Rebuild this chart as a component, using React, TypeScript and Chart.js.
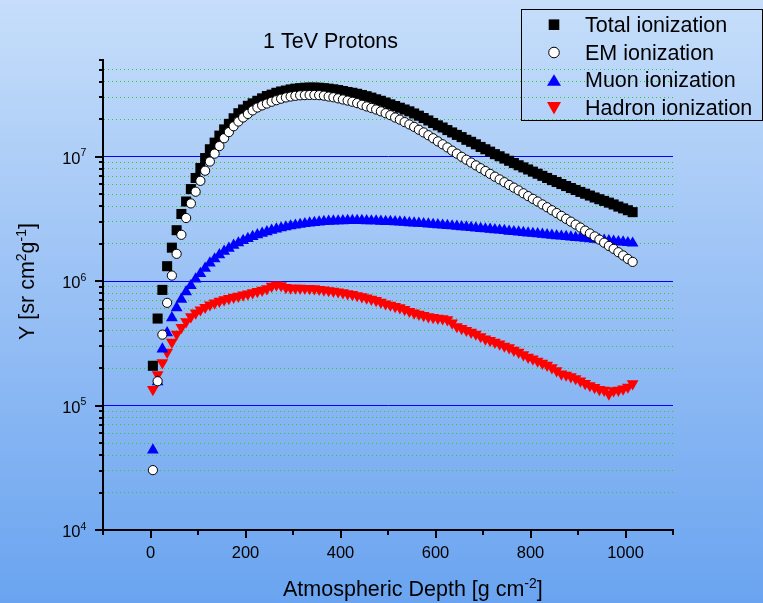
import React, { useEffect, useRef } from 'react';
import { Chart, registerables } from 'chart.js';

Chart.register(...registerables);

// ---------- data ----------
const DEPTH = [
  5, 15, 25, 35, 45, 55, 65, 75, 85, 95,
  105, 115, 125, 135, 145, 155, 165, 175, 185, 195,
  205, 215, 225, 235, 245, 255, 265, 275, 285, 295,
  305, 315, 325, 335, 345, 355, 365, 375, 385, 395,
  405, 415, 425, 435, 445, 455, 465, 475, 485, 495,
  505, 515, 525, 535, 545, 555, 565, 575, 585, 595,
  605, 615, 625, 635, 645, 655, 665, 675, 685, 695,
  705, 715, 725, 735, 745, 755, 765, 775, 785, 795,
  805, 815, 825, 835, 845, 855, 865, 875, 885, 895,
  905, 915, 925, 935, 945, 955, 965, 975, 985, 995,
  1005, 1015,
];

const TOTAL = [
  2.09e5, 5.01e5, 8.51e5, 1.32e6, 1.86e6, 2.57e6, 3.47e6, 4.37e6, 5.50e6, 6.76e6,
  8.13e6, 9.77e6, 1.15e7, 1.30e7, 1.48e7, 1.66e7, 1.84e7, 2.04e7, 2.24e7, 2.40e7,
  2.57e7, 2.69e7, 2.82e7, 2.95e7, 3.08e7, 3.16e7, 3.27e7, 3.35e7, 3.41e7, 3.48e7,
  3.53e7, 3.56e7, 3.59e7, 3.60e7, 3.60e7, 3.59e7, 3.56e7, 3.53e7, 3.49e7, 3.44e7,
  3.38e7, 3.32e7, 3.27e7, 3.21e7, 3.14e7, 3.07e7, 2.99e7, 2.90e7, 2.82e7, 2.73e7,
  2.64e7, 2.56e7, 2.48e7, 2.40e7, 2.32e7, 2.23e7, 2.14e7, 2.05e7, 1.96e7, 1.87e7,
  1.79e7, 1.72e7, 1.64e7, 1.57e7, 1.50e7, 1.44e7, 1.37e7, 1.32e7, 1.26e7, 1.20e7,
  1.15e7, 1.10e7, 1.05e7, 1.01e7, 9.68e6, 9.29e6, 8.91e6, 8.55e6, 8.22e6, 7.91e6,
  7.60e6, 7.31e6, 7.03e6, 6.76e6, 6.50e6, 6.27e6, 6.04e6, 5.82e6, 5.61e6, 5.41e6,
  5.22e6, 5.05e6, 4.88e6, 4.71e6, 4.56e6, 4.42e6, 4.28e6, 4.14e6, 3.98e6, 3.85e6,
  3.72e6, 3.59e6,
];

const EM = [
  3.03e4, 1.57e5, 3.72e5, 6.70e5, 1.11e6, 1.66e6, 2.36e6, 3.22e6, 4.22e6, 5.24e6,
  6.41e6, 7.73e6, 9.16e6, 1.06e7, 1.22e7, 1.41e7, 1.58e7, 1.76e7, 1.92e7, 2.07e7,
  2.21e7, 2.36e7, 2.49e7, 2.59e7, 2.68e7, 2.77e7, 2.85e7, 2.93e7, 3.00e7, 3.05e7,
  3.09e7, 3.12e7, 3.13e7, 3.14e7, 3.14e7, 3.13e7, 3.10e7, 3.05e7, 3.01e7, 2.95e7,
  2.89e7, 2.83e7, 2.77e7, 2.70e7, 2.62e7, 2.54e7, 2.47e7, 2.40e7, 2.32e7, 2.24e7,
  2.16e7, 2.07e7, 1.99e7, 1.90e7, 1.82e7, 1.74e7, 1.65e7, 1.57e7, 1.49e7, 1.41e7,
  1.33e7, 1.26e7, 1.19e7, 1.12e7, 1.06e7, 1.00e7, 9.48e6, 8.99e6, 8.53e6, 8.09e6,
  7.69e6, 7.29e6, 6.92e6, 6.58e6, 6.25e6, 5.94e6, 5.65e6, 5.37e6, 5.09e6, 4.83e6,
  4.59e6, 4.37e6, 4.14e6, 3.93e6, 3.72e6, 3.53e6, 3.35e6, 3.17e6, 3.01e6, 2.85e6,
  2.70e6, 2.55e6, 2.42e6, 2.29e6, 2.16e6, 2.04e6, 1.92e6, 1.82e6, 1.71e6, 1.61e6,
  1.51e6, 1.43e6,
];

const MUON = [
  4.39e4, 1.55e5, 2.85e5, 3.85e5, 5.08e5, 6.10e5, 7.16e5, 8.22e5, 9.23e5, 1.04e6,
  1.15e6, 1.27e6, 1.40e6, 1.51e6, 1.63e6, 1.74e6, 1.84e6, 1.94e6, 2.03e6, 2.12e6,
  2.20e6, 2.28e6, 2.36e6, 2.43e6, 2.49e6, 2.56e6, 2.62e6, 2.68e6, 2.73e6, 2.78e6,
  2.82e6, 2.86e6, 2.90e6, 2.93e6, 2.96e6, 2.99e6, 3.01e6, 3.03e6, 3.04e6, 3.05e6,
  3.06e6, 3.07e6, 3.07e6, 3.07e6, 3.07e6, 3.06e6, 3.05e6, 3.05e6, 3.03e6, 3.02e6,
  3.01e6, 3.00e6, 2.99e6, 2.97e6, 2.95e6, 2.93e6, 2.92e6, 2.90e6, 2.88e6, 2.86e6,
  2.84e6, 2.82e6, 2.80e6, 2.78e6, 2.76e6, 2.74e6, 2.72e6, 2.70e6, 2.67e6, 2.65e6,
  2.63e6, 2.61e6, 2.59e6, 2.57e6, 2.55e6, 2.52e6, 2.50e6, 2.48e6, 2.46e6, 2.44e6,
  2.42e6, 2.40e6, 2.38e6, 2.36e6, 2.34e6, 2.32e6, 2.30e6, 2.28e6, 2.26e6, 2.24e6,
  2.23e6, 2.21e6, 2.19e6, 2.17e6, 2.15e6, 2.13e6, 2.11e6, 2.09e6, 2.07e6, 2.06e6,
  2.04e6, 2.02e6,
];

const HADRON = [
  1.35e5, 1.77e5, 2.21e5, 2.69e5, 3.24e5, 3.76e5, 4.25e5, 4.73e5, 5.19e5, 5.56e5,
  5.89e5, 6.17e5, 6.46e5, 6.68e5, 6.92e5, 7.11e5, 7.28e5, 7.45e5, 7.59e5, 7.76e5,
  7.91e5, 8.09e5, 8.28e5, 8.47e5, 8.71e5, 9.12e5, 9.33e5, 9.23e5, 8.91e5, 8.81e5,
  8.81e5, 8.79e5, 8.77e5, 8.75e5, 8.71e5, 8.61e5, 8.51e5, 8.41e5, 8.32e5, 8.22e5,
  8.09e5, 7.94e5, 7.82e5, 7.67e5, 7.52e5, 7.35e5, 7.18e5, 7.00e5, 6.79e5, 6.58e5,
  6.43e5, 6.28e5, 6.12e5, 5.92e5, 5.73e5, 5.56e5, 5.43e5, 5.31e5, 5.19e5, 5.11e5,
  5.05e5, 4.99e5, 4.90e5, 4.62e5, 4.32e5, 4.17e5, 4.03e5, 3.89e5, 3.76e5, 3.59e5,
  3.43e5, 3.34e5, 3.24e5, 3.13e5, 3.01e5, 2.92e5, 2.79e5, 2.69e5, 2.57e5, 2.45e5,
  2.37e5, 2.28e5, 2.19e5, 2.11e5, 2.02e5, 1.91e5, 1.80e5, 1.76e5, 1.71e5, 1.65e5,
  1.58e5, 1.51e5, 1.45e5, 1.40e5, 1.35e5, 1.33e5, 1.24e5, 1.32e5, 1.33e5, 1.36e5,
  1.41e5, 1.50e5,
];

const SERIES_LABELS = ['Total ionization', 'EM ionization', 'Muon ionization', 'Hadron ionization'];
const TITLE = '1 TeV Protons';

const X_MIN = -100;
const X_MAX = 1100;
const X_STEP = 100;
const X_LABELED = [0, 200, 400, 600, 800, 1000];

const Y_MIN = 1e4;
const Y_MAX = 6e7;
const Y_DECADES = [1e4, 1e5, 1e6, 1e7];
const Y_EXPONENTS = ['4', '5', '6', '7'];
const Y_MULTIPLIERS = [1, 2, 3, 4, 5, 6, 7, 8, 9];

// ---------- styling ----------
const FONT = "'Liberation Sans', Arial, Helvetica, sans-serif";
const W = 763;
const H = 603;

const Y_TICKS: number[] = [];
Y_DECADES.forEach((d) => {
  Y_MULTIPLIERS.forEach((m) => {
    const v = d * m;
    if (v <= Y_MAX * 1.0000001) Y_TICKS.push(v);
  });
});

const isDecade = (v: number) => {
  const e = Math.log10(v);
  return Math.abs(e - Math.round(e)) < 1e-9;
};

type Part = { t: string; sup?: boolean };

function drawRich(
  ctx: CanvasRenderingContext2D,
  parts: Part[],
  x: number,
  y: number,
  size: number,
  supSize: number,
  supRise: number
) {
  let cx = x;
  ctx.textAlign = 'left';
  ctx.textBaseline = 'alphabetic';
  parts.forEach((p) => {
    if (p.sup) {
      ctx.font = `${supSize}px ${FONT}`;
      ctx.fillText(p.t, cx, y - supRise);
    } else {
      ctx.font = `${size}px ${FONT}`;
      ctx.fillText(p.t, cx, y);
    }
    cx += ctx.measureText(p.t).width;
  });
}

function drawMarker(ctx: CanvasRenderingContext2D, kind: number, x: number, y: number) {
  ctx.save();
  if (kind === 0) {
    ctx.fillStyle = '#000';
    ctx.fillRect(x - 5.3, y - 5.3, 10.6, 10.6);
  } else if (kind === 1) {
    ctx.beginPath();
    ctx.arc(x, y, 5.3, 0, Math.PI * 2);
    ctx.fillStyle = '#fff';
    ctx.fill();
    ctx.lineWidth = 1;
    ctx.strokeStyle = '#000';
    ctx.stroke();
  } else if (kind === 2) {
    ctx.beginPath();
    ctx.moveTo(x, y - 6);
    ctx.lineTo(x + 7, y + 5.5);
    ctx.lineTo(x - 7, y + 5.5);
    ctx.closePath();
    ctx.fillStyle = '#0000ff';
    ctx.fill();
  } else {
    ctx.beginPath();
    ctx.moveTo(x, y + 6.5);
    ctx.lineTo(x + 7, y - 6);
    ctx.lineTo(x - 7, y - 6);
    ctx.closePath();
    ctx.fillStyle = '#ff0000';
    ctx.fill();
  }
  ctx.restore();
}

const backgroundPlugin = {
  id: 'bgGradient',
  beforeDraw(chart: any) {
    const ctx = chart.ctx as CanvasRenderingContext2D;
    const g = ctx.createLinearGradient(0, 0, 0, chart.height);
    g.addColorStop(0, 'rgb(198,222,250)');
    g.addColorStop(0.5, 'rgb(152,192,245)');
    g.addColorStop(1, 'rgb(106,164,240)');
    ctx.save();
    ctx.fillStyle = g;
    ctx.fillRect(0, 0, chart.width, chart.height);
    ctx.restore();
  },
};

const overlayPlugin = {
  id: 'overlay',
  afterDraw(chart: any) {
    const ctx = chart.ctx as CanvasRenderingContext2D;
    const xs = chart.scales.x;
    const ys = chart.scales.y;
    const area = chart.chartArea;
    ctx.save();

    // tick marks
    ctx.strokeStyle = '#000';
    ctx.lineWidth = 2;
    ctx.lineCap = 'butt';
    xs.ticks.forEach((t: any) => {
      const px = Math.round(xs.getPixelForValue(t.value));
      const len = t.value % 200 === 0 ? 8 : 5;
      ctx.beginPath();
      ctx.moveTo(px, area.bottom);
      ctx.lineTo(px, area.bottom + len);
      ctx.stroke();
    });
    Y_TICKS.forEach((v) => {
      const py = Math.round(ys.getPixelForValue(v));
      const len = isDecade(v) ? 8 : 4;
      ctx.beginPath();
      ctx.moveTo(area.left, py);
      ctx.lineTo(area.left - len, py);
      ctx.stroke();
    });

    // y tick labels (10^n)
    ctx.fillStyle = '#000';
    Y_DECADES.forEach((d, i) => {
      const py = ys.getPixelForValue(d);
      ctx.font = `16.5px ${FONT}`;
      ctx.textAlign = 'right';
      ctx.textBaseline = 'alphabetic';
      ctx.fillText('10', 80.5, py + 7);
      ctx.font = `10.5px ${FONT}`;
      ctx.textAlign = 'left';
      ctx.fillText(Y_EXPONENTS[i], 80.5, py - 0.5);
    });

    // title
    ctx.font = `21.5px ${FONT}`;
    ctx.textAlign = 'left';
    ctx.textBaseline = 'alphabetic';
    ctx.fillText(TITLE, 263, 48);

    // x axis title
    drawRich(
      ctx,
      [{ t: 'Atmospheric Depth [g cm' }, { t: '-2', sup: true }, { t: ']' }],
      283,
      596,
      21.5,
      14,
      8
    );

    // y axis title (rotated)
    ctx.save();
    ctx.translate(33.5, 340);
    ctx.rotate(-Math.PI / 2);
    drawRich(
      ctx,
      [{ t: 'Y [sr cm' }, { t: '2', sup: true }, { t: 'g' }, { t: '-1', sup: true }, { t: ']' }],
      0,
      0,
      21.5,
      14,
      8
    );
    ctx.restore();

    // legend
    ctx.strokeStyle = '#000';
    ctx.lineWidth = 1;
    ctx.strokeRect(521.5, 9.5, 241, 111);
    const baselines = [31.7, 59.5, 87.3, 115];
    SERIES_LABELS.forEach((label, i) => {
      drawMarker(ctx, i, 554, baselines[i] - 7);
      ctx.font = `21.5px ${FONT}`;
      ctx.fillStyle = '#000';
      ctx.textAlign = 'left';
      ctx.textBaseline = 'alphabetic';
      ctx.fillText(label, 585, baselines[i]);
    });

    ctx.restore();
  },
};

export default function App() {
  const canvasRef = useRef<HTMLCanvasElement | null>(null);

  useEffect(() => {
    document.body.style.margin = '0';
    const canvas = canvasRef.current;
    if (!canvas) return;

    const toPoints = (vals: number[]) => DEPTH.map((x, i) => ({ x, y: vals[i] }));

    const chart = new Chart(canvas, {
      type: 'scatter',
      data: {
        datasets: [
          {
            label: SERIES_LABELS[0],
            data: toPoints(TOTAL),
            pointStyle: 'rect',
            pointRadius: 7.1,
            backgroundColor: '#000000',
            borderColor: '#000000',
            borderWidth: 0,
            order: 4,
          },
          {
            label: SERIES_LABELS[1],
            data: toPoints(EM),
            pointStyle: 'circle',
            pointRadius: 4.6,
            backgroundColor: '#ffffff',
            borderColor: '#000000',
            borderWidth: 1,
            order: 1,
          },
          {
            label: SERIES_LABELS[2],
            data: toPoints(MUON),
            pointStyle: 'triangle',
            pointRadius: 6.8,
            backgroundColor: '#0000ff',
            borderColor: '#0000ff',
            borderWidth: 0,
            order: 2,
          },
          {
            label: SERIES_LABELS[3],
            data: toPoints(HADRON),
            pointStyle: 'triangle',
            rotation: 180,
            pointRadius: 6.8,
            backgroundColor: '#ff0000',
            borderColor: '#ff0000',
            borderWidth: 0,
            order: 3,
          },
        ],
      },
      options: {
        responsive: false,
        animation: false,
        devicePixelRatio: 1,
        events: [],
        layout: { padding: { left: 0, top: 60, right: 90, bottom: 0 } },
        plugins: {
          legend: { display: false },
          tooltip: { enabled: false },
          title: { display: false },
        },
        scales: {
          x: {
            type: 'linear',
            min: X_MIN,
            max: X_MAX,
            afterFit: (scale: any) => {
              scale.height = H - 530;
            },
            ticks: {
              stepSize: X_STEP,
              autoSkip: false,
              maxRotation: 0,
              padding: 14,
              color: '#000',
              font: { family: FONT, size: 16.5 },
              callback: (v: any) => (X_LABELED.includes(Number(v)) ? String(v) : ''),
            },
            grid: { display: false, drawTicks: false },
            border: { display: true, color: '#000', width: 2 },
          },
          y: {
            type: 'logarithmic',
            min: Y_MIN,
            max: Y_MAX,
            afterBuildTicks: (scale: any) => {
              scale.ticks = Y_TICKS.map((v) => ({ value: v }));
            },
            afterFit: (scale: any) => {
              scale.width = 103;
            },
            ticks: { display: false },
            grid: {
              display: true,
              drawTicks: false,
              lineWidth: 1,
              color: (ctx: any) => {
                const v = ctx.tick ? ctx.tick.value : null;
                if (v == null) return 'rgba(0,0,0,0)';
                if (v <= Y_MIN * 1.0001 || v >= Y_MAX * 0.9999) return 'rgba(0,0,0,0)';
                return isDecade(v) ? '#0000ff' : '#2ccc2c';
              },
            },
            border: {
              display: true,
              color: '#000',
              width: 2,
              dash: (ctx: any) => {
                if (ctx.type !== 'tick' || !ctx.tick) return [];
                return isDecade(ctx.tick.value) ? [] : [1, 3];
              },
            },
          },
        },
      },
      plugins: [backgroundPlugin, overlayPlugin],
    } as any);

    return () => {
      chart.destroy();
    };
  }, []);

  return (
    <div style={{ width: W, height: H }}>
      <canvas ref={canvasRef} width={W} height={H} style={{ display: 'block' }} />
    </div>
  );
}
